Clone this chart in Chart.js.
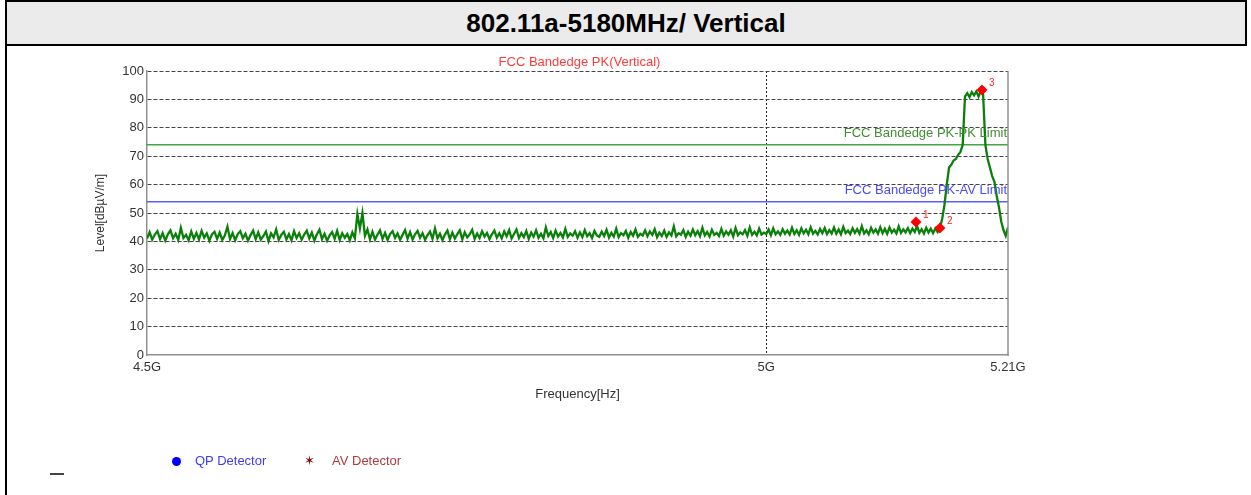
<!DOCTYPE html>
<html>
<head>
<meta charset="utf-8">
<script src="https://cdn.jsdelivr.net/npm/chart.js@4.4.1/dist/chart.umd.min.js"></script>
<style>
  html, body { margin:0; padding:0; background:#fff; width:1251px; height:495px; overflow:hidden; }
  body { position:relative; font-family:"Liberation Sans", Arial, sans-serif; }
  #c { position:absolute; left:0; top:0; }
  #header { position:absolute; left:5px; top:0; width:1242px; height:46px; box-sizing:border-box;
            border:2px solid #000; background:#ebebeb; text-align:center; z-index:2;
            font-weight:bold; font-size:26px; line-height:43px; color:#000; }
  #lborder { position:absolute; left:5px; top:0; width:2px; height:495px; background:#000; z-index:2; }
  .lg { position:absolute; font-size:13px; line-height:16px; top:453px; z-index:2; }
  #qpdot { position:absolute; left:172px; top:457px; width:9px; height:9px; border-radius:50%; background:#0000ff; }
  #dash { position:absolute; left:50px; top:473px; width:14px; height:2px; background:#444; }
</style>
</head>
<body>
<div id="header">802.11a-5180MHz/ Vertical</div>
<div id="lborder"></div>
<canvas id="c" width="1251" height="495"></canvas>
<div id="qpdot"></div>
<div class="lg" style="left:195px;color:#3c3cff;">QP Detector</div>
<div class="lg" style="left:304px;color:#8b0f0f;font-size:13px;">&#10038;</div>
<div class="lg" style="left:332px;color:#b03a3a;">AV Detector</div>
<div id="dash"></div>
<script>
// ---- Data ----
const plotTitle = "FCC Bandedge PK(Vertical)";
const sweepStartGHz = 4.5;
const sweepStepGHz = 0.002;
const traceLevels = [
  41.0,43.2,40.6,42.4,43.6,40.8,42.9,40.3,42.5,43.9,41.1,42.7,40.5,44.8,41.2,42.3,40.4,43.5,40.9,43.0,
  40.7,43.7,41.3,42.8,40.2,42.5,43.4,40.9,43.1,40.5,42.1,45.2,40.8,42.9,40.4,42.6,43.6,41.1,42.7,40.3,
  42.2,43.8,40.8,43.2,40.6,41.9,43.5,40.1,42.8,41.4,44.2,40.5,42.3,43.4,40.7,42.6,40.4,43.6,41.2,42.9,
  40.6,42.4,43.8,41.0,43.1,40.3,42.5,44.1,40.8,42.7,40.2,42.1,43.3,40.9,43.7,40.5,42.9,41.3,42.6,40.4,
  43.2,41.1,49.6,44.5,50.0,42.0,44.2,40.7,43.4,40.6,42.4,43.9,40.9,43.0,40.5,42.6,43.6,41.2,42.8,40.6,
  42.3,44.0,41.0,43.3,40.7,42.5,43.7,41.3,42.9,40.6,42.2,43.5,40.9,44.6,41.1,42.7,40.5,42.4,43.8,40.8,
  43.1,41.0,42.6,43.9,40.7,43.2,41.4,42.5,44.1,40.9,42.8,41.2,43.6,41.7,43.0,40.8,42.5,43.8,41.3,42.9,
  41.1,43.5,41.8,44.0,41.0,42.6,44.2,41.2,42.9,41.5,43.7,40.9,43.1,41.7,43.9,41.3,42.7,41.1,44.9,41.9,
  43.3,41.2,43.8,41.7,43.0,41.4,44.4,41.6,42.8,42.0,43.6,41.3,43.2,41.5,44.0,41.8,42.9,41.2,43.7,42.1,
  41.6,43.4,41.9,44.1,41.4,43.0,41.7,44.5,41.5,42.9,42.2,43.7,41.3,43.3,42.0,44.2,41.6,42.7,42.1,43.9,
  41.8,43.5,42.3,44.3,41.5,43.1,41.9,43.8,41.6,43.2,42.1,45.3,41.8,42.9,42.4,44.0,41.6,43.4,42.0,44.2,
  42.2,43.6,41.8,44.8,42.1,43.3,41.7,44.1,42.3,43.0,41.9,44.4,42.0,43.5,42.4,43.9,41.7,44.7,42.2,43.2,
  42.5,44.0,42.0,44.9,42.3,43.4,42.1,44.5,42.4,43.1,42.6,44.2,42.2,44.6,42.5,43.5,42.3,44.3,42.7,43.8,
  42.4,44.8,42.6,43.9,42.3,44.6,42.8,44.1,42.5,45.0,42.7,43.7,42.4,44.4,42.9,44.7,42.6,44.0,42.8,44.9,
  42.7,44.2,42.5,45.1,42.9,43.8,42.6,44.6,43.0,44.3,42.7,45.4,42.8,43.9,42.5,44.8,43.1,44.2,42.7,45.0,
  42.9,44.4,42.7,44.9,43.1,44.1,42.8,45.3,43.0,44.2,43.2,44.7,42.9,44.5,43.3,45.4,43.0,44.3,42.8,44.8,
  43.1,44.5,42.9,44.6,43.3,44.7,48.0,53.0,60.0,66.0,67.0,68.5,69.0,70.5,71.5,74.0,91.0,92.2,90.8,92.6,
  91.4,92.8,91.0,93.0,91.6,74.0,69.0,66.0,63.0,61.0,56.0,52.0,47.0,44.0,42.0,45.0
];
const markerFreqGHz = [5.129, 5.150, 5.187];
const markerLevels  = [46.8, 44.7, 93.3];
const markerNames   = ["1", "2", "3"];
const pkLimit = 74;
const avLimit = 54;
const pkLimitLabel = "FCC Bandedge PK-PK Limit";
const avLimitLabel = "FCC Bandedge PK-AV Limit";
const freqMin = 4.5, freqMax = 5.21;
const xTickValues = [4.5, 5, 5.21];
const xTickLabels = ["4.5G", "5G", "5.21G"];
const yMin = 0, yMax = 100, yStep = 10;
const xTitle = "Frequency[Hz]";
const yTitle = "Level[dBµV/m]";

// ---- Build datasets ----
const tracePts = traceLevels.map((v, i) => ({ x: +(sweepStartGHz + sweepStepGHz * i).toFixed(4), y: v }));
const markerPts = markerFreqGHz.map((f, i) => ({ x: f, y: markerLevels[i] }));
const FONT = "'Liberation Sans', Arial, sans-serif";

const annot = {
  id: 'annot',
  afterDatasetsDraw(chart) {
    const { ctx, chartArea: a, scales: { x, y } } = chart;
    ctx.save();
    ctx.setLineDash([]);
    ctx.strokeStyle = '#909090';
    ctx.lineWidth = 1.5;
    ctx.beginPath();
    ctx.moveTo(a.right, a.top); ctx.lineTo(a.right, a.bottom + 0.75);
    ctx.stroke();
    ctx.font = "13px " + FONT;
    ctx.textBaseline = 'middle';
    ctx.textAlign = 'center';
    ctx.fillStyle = '#ff3a3a';
    ctx.fillText(plotTitle, (a.left + a.right) / 2 + 2, a.top - 9);
    ctx.textAlign = 'right';
    ctx.fillStyle = '#3f8f32';
    ctx.fillText(pkLimitLabel, a.right - 1, y.getPixelForValue(pkLimit) - 11);
    ctx.fillStyle = '#4a4aff';
    ctx.fillText(avLimitLabel, a.right - 1, y.getPixelForValue(avLimit) - 11);
    ctx.font = "10px " + FONT;
    ctx.textAlign = 'left';
    ctx.fillStyle = '#ff2020';
    markerPts.forEach((p, i) => {
      ctx.fillText(markerNames[i], x.getPixelForValue(p.x) + 7, y.getPixelForValue(p.y) - 7);
    });
    ctx.restore();
  }
};

new Chart(document.getElementById('c'), {
  type: 'line',
  data: {
    datasets: [
      { label: 'Markers', data: markerPts, showLine: false, pointStyle: 'rectRot', pointRadius: 5.5,
        pointBackgroundColor: '#ff0000', pointBorderColor: '#ff0000', borderWidth: 0 },
      { label: 'Trace', data: tracePts, borderColor: '#0a7f0a', borderWidth: 2.3, pointRadius: 0, tension: 0 },
      { label: 'PK Limit', data: [{ x: freqMin, y: pkLimit }, { x: freqMax, y: pkLimit }],
        borderColor: '#44a544', borderWidth: 1.5, pointRadius: 0 },
      { label: 'AV Limit', data: [{ x: freqMin, y: avLimit }, { x: freqMax, y: avLimit }],
        borderColor: '#5c5cff', borderWidth: 1.5, pointRadius: 0 }
    ]
  },
  options: {
    responsive: false,
    animation: false,
    devicePixelRatio: 1,
    layout: { padding: { left: 92, right: 243, top: 71, bottom: 93 } },
    plugins: { legend: { display: false }, tooltip: { enabled: false }, title: { display: false } },
    scales: {
      x: {
        type: 'logarithmic', min: freqMin, max: freqMax,
        afterBuildTicks: (s) => { s.ticks = xTickValues.map(v => ({ value: v })); },
        afterFit: (s) => { s.height = 47; },
        ticks: { callback: (v, i) => xTickLabels[i], color: '#333', font: { size: 13, family: FONT },
                 padding: 5, maxRotation: 0, autoSkip: false },
        grid: { drawTicks: false, color: (c) => (c.tick && c.tick.value === 5) ? '#222' : 'rgba(0,0,0,0)',
                lineWidth: 1 },
        border: { display: true, color: '#909090', width: 1.5, dash: [2, 2] },
        title: { display: true, text: xTitle, color: '#333', font: { size: 13, family: FONT }, padding: 0 }
      },
      y: {
        min: yMin, max: yMax,
        afterFit: (s) => { s.width = 55; },
        ticks: { stepSize: yStep, color: '#333', font: { size: 13, family: FONT }, padding: 3 },
        grid: { drawTicks: false, color: (c) => (c.tick && c.tick.value === 0) ? 'rgba(0,0,0,0)' : '#444',
                lineWidth: 1 },
        border: { display: true, color: '#909090', width: 1.5, dash: [4, 2] },
        title: { display: true, text: yTitle, color: '#333', font: { size: 12, family: FONT }, padding: { top: 1 } }
      }
    }
  },
  plugins: [annot]
});
</script>
</body>
</html>
